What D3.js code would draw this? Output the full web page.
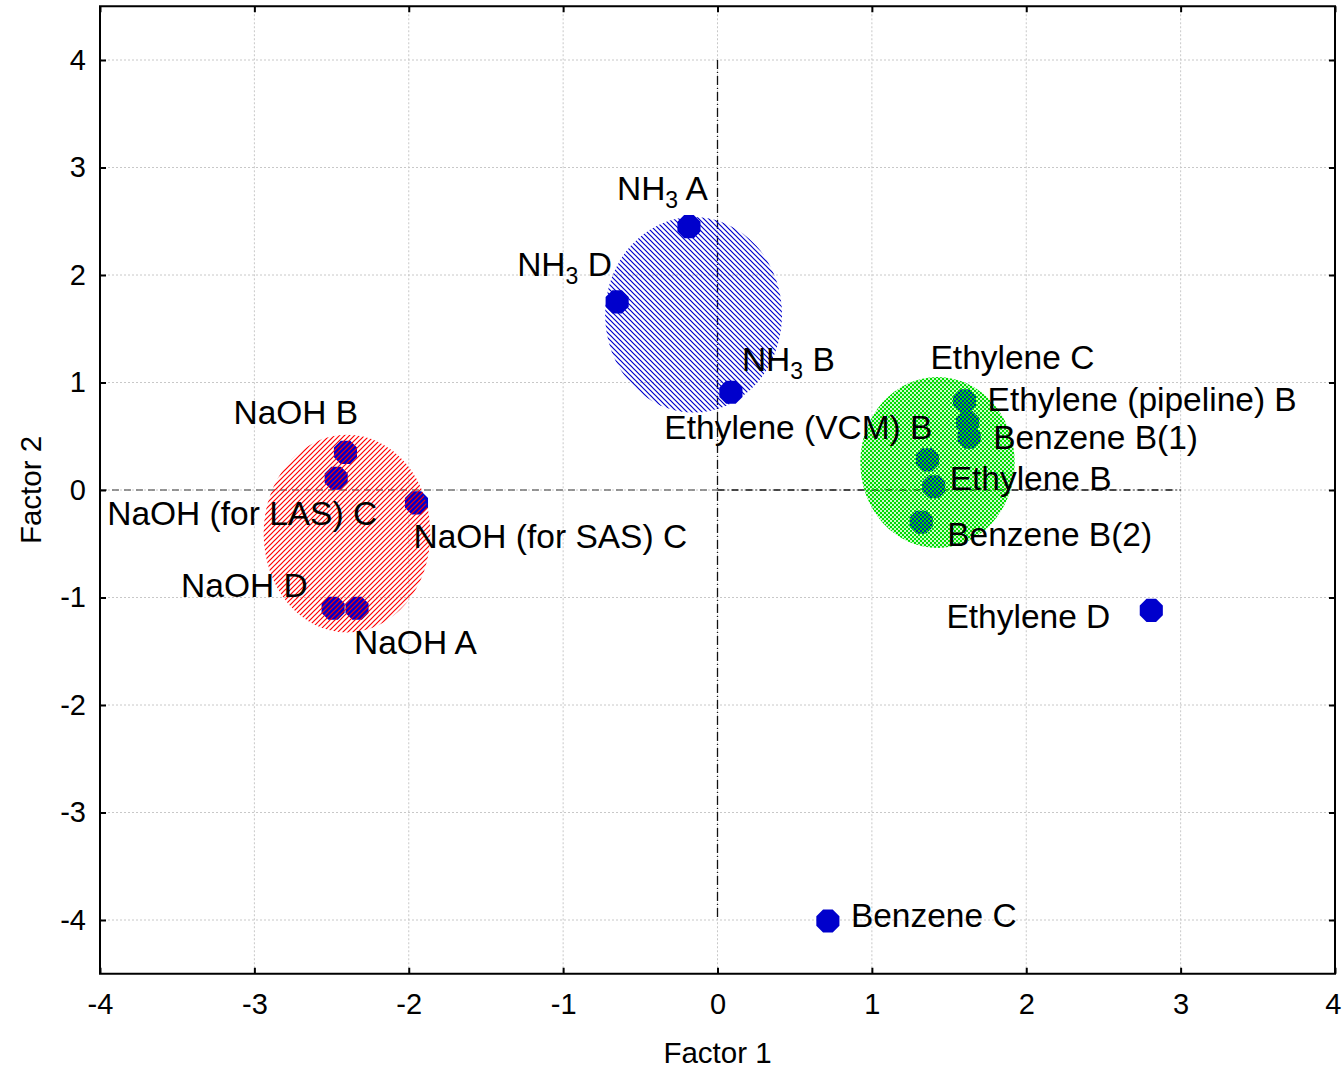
<!DOCTYPE html>
<html>
<head>
<meta charset="utf-8">
<script src="https://cdn.jsdelivr.net/npm/d3@7"></script>
<style>
html,body{margin:0;padding:0;background:#fff;}
text{font-family:"Liberation Sans",Arial,sans-serif;fill:#000;}
</style>
</head>
<body>
<svg id="chart" width="1342" height="1068"></svg>
<script>
// ---------- data ----------
const pointNames = ["NH3 A","NH3 D","NH3 B","Ethylene (VCM) B","NaOH B","NaOH (for LAS) C","NaOH (for SAS) C","NaOH D","NaOH A","Ethylene C","Ethylene (pipeline) B","Benzene B(1)","Ethylene B","Benzene B(2)","Ethylene D","Benzene C"];
const factor1 = [-0.185,-0.65,0.087,1.36,-2.41,-2.47,-1.95,-2.49,-2.335,1.60,1.62,1.63,1.40,1.32,2.81,0.715];
const factor2 = [2.45,1.75,0.91,0.28,0.35,0.11,-0.12,-1.10,-1.10,0.83,0.63,0.49,0.03,-0.30,-1.12,-4.01];

const clusterNames = ["NH3","NaOH","Ethylene/Benzene B"];
const clusterF1 = [-0.155,-2.40,1.425];
const clusterF2 = [1.63,-0.405,0.256];
const clusterR1 = [0.573,0.54,0.50];
const clusterR2 = [0.91,0.92,0.795];

const xTicks = [-4,-3,-2,-1,0,1,2,3,4];
const yTicks = [-4,-3,-2,-1,0,1,2,3,4];

// ---------- layout (label offsets in px, not data) ----------
const labelLayout = [
  {dx:-72,dy:-27,anchor:"start"},
  {dx:-100,dy:-26,anchor:"start"},
  {dx:11,dy:-21,anchor:"start"},
  {dx:5,dy:-21,anchor:"end"},
  {dx:-112,dy:-28,anchor:"start"},
  {dx:-229,dy:47,anchor:"start"},
  {dx:-3,dy:45,anchor:"start"},
  {dx:-152,dy:-11,anchor:"start"},
  {dx:-3,dy:46,anchor:"start"},
  {dx:-34,dy:-32,anchor:"start"},
  {dx:20,dy:-11,anchor:"start"},
  {dx:24,dy:12,anchor:"start"},
  {dx:16,dy:3,anchor:"start"},
  {dx:26,dy:24,anchor:"start"},
  {dx:-41,dy:18,anchor:"end"},
  {dx:23,dy:6,anchor:"start"}
];

const svg = d3.select("#chart");
const x = d3.scaleLinear().domain([-4,4]).range([100,1335]);
const y = d3.scaleLinear().domain([-4.5,4.5]).range([973.75,6.25]);
const [x0,x1] = x.range(); const [y0,y1] = [y(4.5), y(-4.5)];

// patterns
const defs = svg.append("defs");
const pb = defs.append("pattern").attr("id","hatchBlue").attr("patternUnits","userSpaceOnUse")
  .attr("width",5).attr("height",5);
pb.append("path").attr("d","M-1,-1L6,6M-1,4L1,6M4,-1L6,1").attr("stroke","#0000cc").attr("stroke-width",1.2);
const pr = defs.append("pattern").attr("id","hatchRed").attr("patternUnits","userSpaceOnUse")
  .attr("width",5).attr("height",5);
pr.append("path").attr("d","M-1,6L6,-1M-1,1L1,-1M4,6L6,4").attr("stroke","#ff0000").attr("stroke-width",1.2);
const pg = defs.append("pattern").attr("id","checkGreen").attr("patternUnits","userSpaceOnUse")
  .attr("width",4).attr("height",4);
pg.append("path").attr("d","M0,0H2V2H0ZM2,2H4V4H2Z").attr("fill","#00dd00");
pg.append("path").attr("d","M2,0H4V2H2ZM0,2H2V4H0Z").attr("fill","#00dd00").attr("opacity",0.2);
const clusterFill = ["url(#hatchBlue)","url(#hatchRed)","url(#checkGreen)"];

// grid
const g = svg.append("g");
g.selectAll(".gx").data(xTicks.filter(t=>t>-4&&t<4)).join("line")
  .attr("x1",d=>x(d)).attr("x2",d=>x(d)).attr("y1",y0).attr("y2",y1)
  .attr("stroke","#c8c8c8").attr("stroke-width",1).attr("stroke-dasharray","2,2");
g.selectAll(".gy").data(yTicks).join("line")
  .attr("y1",d=>y(d)).attr("y2",d=>y(d)).attr("x1",x0).attr("x2",x1)
  .attr("stroke","#c8c8c8").attr("stroke-width",1).attr("stroke-dasharray","2,2");

// reference lines
svg.append("line").attr("x1",x(-4)).attr("x2",x(0)).attr("y1",y(0)).attr("y2",y(0))
  .attr("stroke","#777").attr("stroke-width",1.5).attr("stroke-dasharray","7,5");
svg.append("line").attr("x1",x(0)).attr("x2",x(3)).attr("y1",y(0)).attr("y2",y(0))
  .attr("stroke","#111").attr("stroke-width",1.3).attr("stroke-dasharray","7,3,1,3");
svg.append("line").attr("x1",x(0)).attr("x2",x(0)).attr("y1",y(4)).attr("y2",y(-4))
  .attr("stroke","#111").attr("stroke-width",1.3).attr("stroke-dasharray","9,3,1,3");

// markers (octagon)
const octagon = {draw(ctx,size){const r=Math.sqrt(size/2.83);for(let i=0;i<8;i++){const a=Math.PI/8+i*Math.PI/4;const px=r*Math.cos(a),py=r*Math.sin(a);i?ctx.lineTo(px,py):ctx.moveTo(px,py);}ctx.closePath();}};
svg.append("g").selectAll("path").data(pointNames).join("path")
  .attr("transform",(d,i)=>`translate(${x(factor1[i])},${y(factor2[i])})`)
  .attr("d",d3.symbol().type(octagon).size(2.83*12.5*12.5))
  .attr("fill","#0000cc");

// ellipses
svg.append("g").selectAll("ellipse").data(clusterNames).join("ellipse")
  .attr("cx",(d,i)=>x(clusterF1[i])).attr("cy",(d,i)=>y(clusterF2[i]))
  .attr("rx",(d,i)=>x(clusterR1[i])-x(0)).attr("ry",(d,i)=>y(0)-y(clusterR2[i]))
  .attr("fill",(d,i)=>clusterFill[i]);

// labels
const lab = svg.append("g").selectAll("text").data(pointNames).join("text")
  .attr("x",(d,i)=>x(factor1[i])+labelLayout[i].dx)
  .attr("y",(d,i)=>y(factor2[i])+labelLayout[i].dy)
  .attr("text-anchor",(d,i)=>labelLayout[i].anchor)
  .attr("font-size",33.5);
lab.each(function(d){
  const t=d3.select(this);
  if(d.startsWith("NH3")){
    t.append("tspan").text("NH");
    t.append("tspan").text("3").attr("font-size",23).attr("dy",8);
    t.append("tspan").text(d.slice(3)).attr("dy",-8);
  } else t.text(d);
});

// frame
svg.append("rect").attr("x",x0).attr("y",y0).attr("width",x1-x0).attr("height",y1-y0)
  .attr("fill","none").attr("stroke","#000").attr("stroke-width",2);

// axes with inside ticks
const fmt = d=>String(d).replace("−","-");
const ax = svg.append("g").attr("transform",`translate(0,${y1})`)
  .call(d3.axisBottom(x).tickValues(xTicks).tickSize(-6).tickPadding(14).tickFormat(fmt));
const axT = svg.append("g").attr("transform",`translate(0,${y0})`)
  .call(d3.axisTop(x).tickValues(xTicks).tickSize(-6).tickFormat(""));
const ay = svg.append("g").attr("transform",`translate(${x0},0)`)
  .call(d3.axisLeft(y).tickValues(yTicks).tickSize(-6).tickPadding(14).tickFormat(fmt));
const ayR = svg.append("g").attr("transform",`translate(${x1},0)`)
  .call(d3.axisRight(y).tickValues(yTicks).tickSize(-6).tickFormat(""));
[ax,axT,ay,ayR].forEach(a=>{
  a.select(".domain").remove();
  a.selectAll(".tick line").attr("stroke","#000").attr("stroke-width",2);
  a.selectAll("text").attr("font-size",29).attr("font-family","'Liberation Sans',Arial,sans-serif").attr("fill","#000");
});
ax.selectAll("text").attr("dy","0.9em");
// keep the last bottom tick label inside the canvas
ax.selectAll(".tick").filter(d=>d===4).select("text").attr("text-anchor","end").attr("x",6);

// axis titles
svg.append("text").attr("x",x(0)).attr("y",1063).attr("text-anchor","middle").attr("font-size",29.5).text("Factor 1");
svg.append("text").attr("transform",`translate(41,${y(0)}) rotate(-90)`).attr("text-anchor","middle").attr("font-size",29.5).text("Factor 2");
</script>
</body>
</html>
